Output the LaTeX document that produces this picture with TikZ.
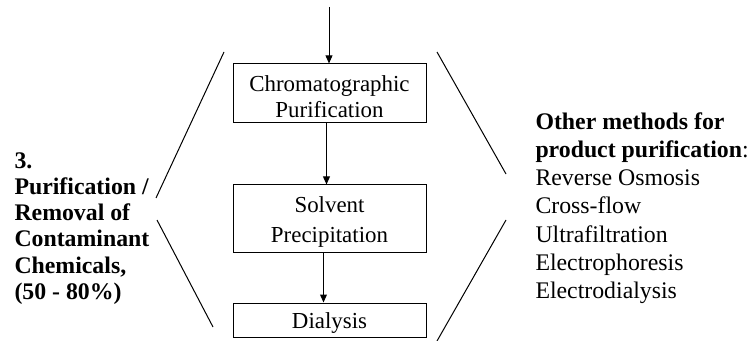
\documentclass[tikz,border=0pt]{standalone}
\usepackage{fontspec}
\setmainfont{Liberation Serif}
\usetikzlibrary{arrows.meta}

\begin{document}
\begin{tikzpicture}[x=0.5pt,y=-0.5pt,line width=0.5pt,
        stage/.style={draw,minimum width=96.5pt,inner sep=0pt},
        stagetext/.style={inner sep=0pt,align=center,font=\fontsize{11.45}{13}\selectfont},
        flow/.style={-{Triangle[length=4pt,width=3.4pt]}},
        note/.style={inner sep=0pt,align=left,anchor=north west,font=\fontsize{11.9}{14.15}\selectfont}]
        \useasboundingbox (0,0) rectangle (753,341);

        % Purification steps (boxes, then their texts)
        \node[stage,minimum height=29.5pt] (chrom) at (329.5,93.5) {};
        \node[stage,minimum height=34pt] (solv) at (329.5,219) {};
        \node[stage,minimum height=17pt] (dial) at (329.5,320) {};

        \node[stagetext] (chromtext) at ([yshift=-1.5pt]chrom.center) {Chromatographic\\Purification};
        \node[stagetext,font=\fontsize{11.45}{15}\selectfont] (solvtext) at ([yshift=-1.25pt]solv.center) {Solvent\\Precipitation};
        \node[stagetext] (dialtext) at ([yshift=-1.5pt]dial.center) {Dialysis};

        % Arrows between the steps
        \coordinate (in) at (329,7);
        \draw[flow] (in) -- (in |- chrom.north);
        \draw[flow] ([xshift=-1.5pt]chrom.south) -- ([xshift=-1.5pt]solv.north);
        \draw[flow] ([xshift=-3pt]solv.south) -- ([xshift=-3pt]dial.north);

        % Brackets
        \draw (224,52) -- (156,198);
        \draw (157,220) -- (213,327);
        \draw (437,52) -- (506,174);
        \draw (506,220) -- (437,341);

        % Texts on both sides
        \node[note,font=\fontsize{11.9}{13.1}\selectfont\bfseries] (stage3) at (14,152)
            {3.\\Purification /\\Removal of\\Contaminant\\Chemicals,\\(50 - 80\%)};
        \node[note] (others) at (535,111.8)
            {\textbf{Other methods for}\\\textbf{product purification}:\\Reverse Osmosis\\Cross-flow\\Ultrafiltration\\Electrophoresis\\Electrodialysis};
    \end{tikzpicture}
\end{document}
